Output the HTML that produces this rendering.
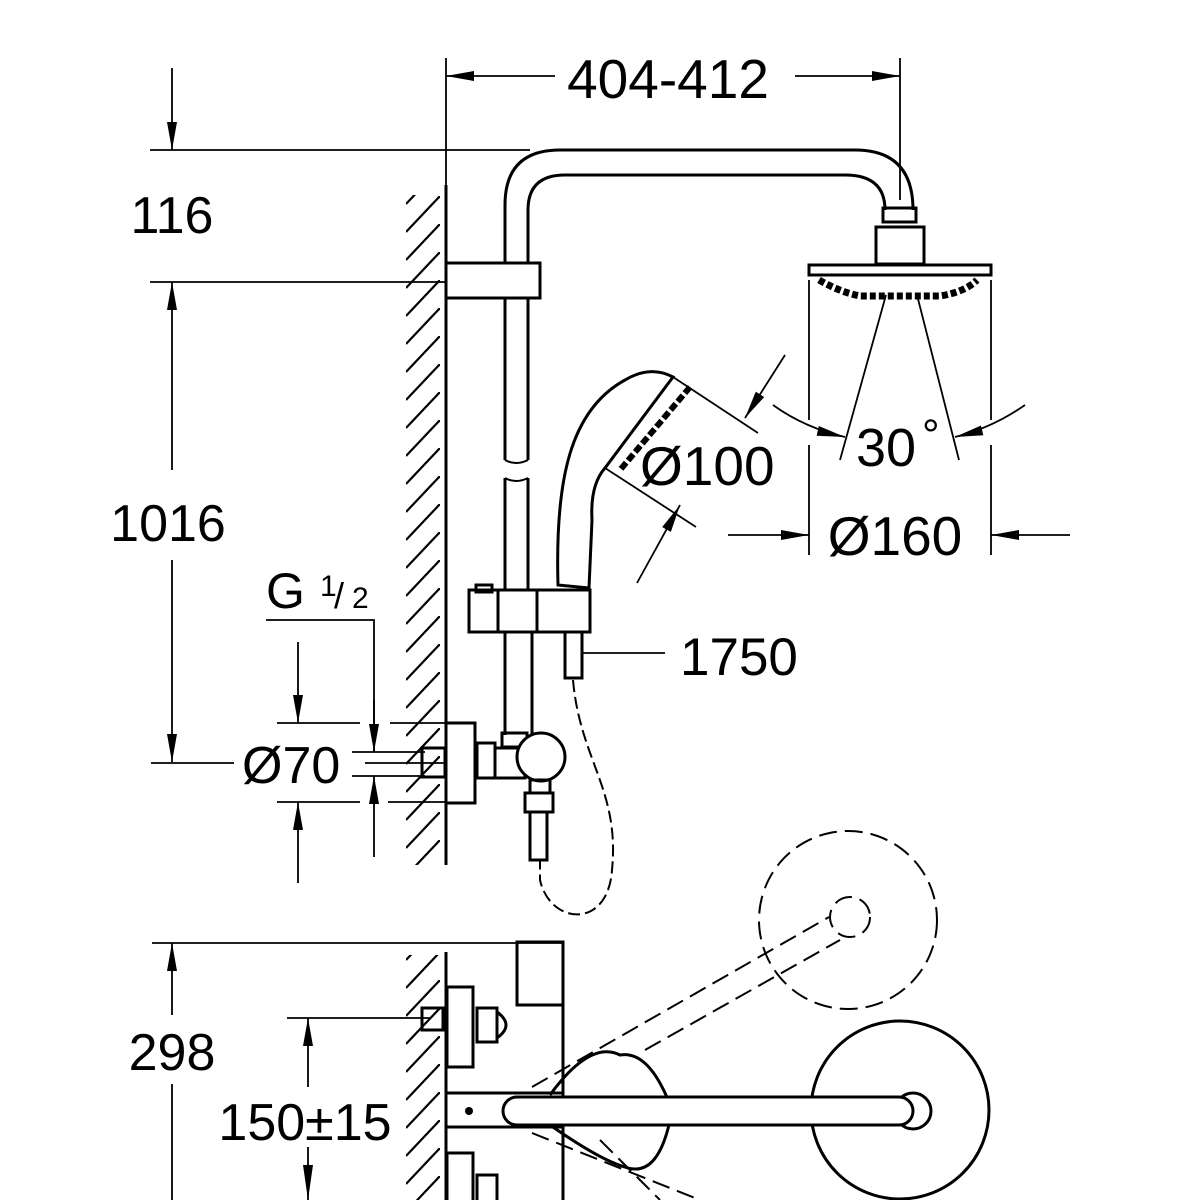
<!DOCTYPE html>
<html><head><meta charset="utf-8"><style>
html,body{margin:0;padding:0;background:#fff;}
svg{display:block;}
text{font-family:"Liberation Sans",sans-serif;fill:#000;}
</style></head><body>
<svg width="1200" height="1200" viewBox="0 0 1200 1200" xmlns="http://www.w3.org/2000/svg">
<defs>
<marker id="a" viewBox="0 0 28 10" refX="28" refY="5" markerWidth="28" markerHeight="10" markerUnits="userSpaceOnUse" orient="auto">
<path d="M0,0 L28,5 L0,10 z" fill="#000"/></marker>
<pattern id="h" width="40" height="28" patternUnits="userSpaceOnUse" y="0">
<line x1="40" y1="0" x2="6" y2="36" stroke="#000" stroke-width="2.2"/>
<line x1="40" y1="-28" x2="6" y2="8" stroke="#000" stroke-width="2.2"/>
</pattern>
</defs>
<g fill="none" stroke="#000" stroke-width="1.8">
<line x1="446" y1="58" x2="446" y2="190"/>
<line x1="900" y1="58" x2="900" y2="200"/>
<line x1="555" y1="76" x2="446" y2="76" marker-end="url(#a)"/>
<line x1="795" y1="76" x2="900" y2="76" marker-end="url(#a)"/>
<line x1="150" y1="150" x2="530" y2="150"/>
<line x1="172" y1="68" x2="172" y2="150" marker-end="url(#a)"/>
<line x1="150" y1="282" x2="446" y2="282"/>
<line x1="172" y1="470" x2="172" y2="282" marker-end="url(#a)"/>
<line x1="172" y1="560" x2="172" y2="762" marker-end="url(#a)"/>
<line x1="151" y1="763" x2="234" y2="763"/>
<polyline points="266,620 374,620 374,752"/>
<line x1="374" y1="700" x2="374" y2="752" marker-end="url(#a)"/>
<line x1="374" y1="857" x2="374" y2="776" marker-end="url(#a)"/>
<line x1="298" y1="642" x2="298" y2="723" marker-end="url(#a)"/>
<line x1="298" y1="883" x2="298" y2="802" marker-end="url(#a)"/>
<line x1="277" y1="723" x2="360" y2="723"/><line x1="390" y1="723" x2="470" y2="723"/>
<line x1="277" y1="802" x2="360" y2="802"/><line x1="388" y1="802" x2="470" y2="802"/>
<line x1="352" y1="752" x2="425" y2="752"/><line x1="352" y1="776" x2="425" y2="776"/>
<line x1="365" y1="763" x2="450" y2="763"/>
<line x1="809" y1="280" x2="809" y2="420"/><line x1="809" y1="445" x2="809" y2="555"/>
<line x1="991" y1="280" x2="991" y2="420"/><line x1="991" y1="445" x2="991" y2="555"/>
<line x1="886" y1="295" x2="840" y2="460"/>
<line x1="917" y1="295" x2="959" y2="460"/>
<path d="M773,405 Q805,428 845,437" marker-end="url(#a)"/>
<path d="M1025,405 Q992,428 955,437" marker-end="url(#a)"/>
<line x1="728" y1="535" x2="809" y2="535" marker-end="url(#a)"/>
<line x1="1070" y1="535" x2="991" y2="535" marker-end="url(#a)"/>
<line x1="673" y1="377" x2="758" y2="433"/>
<line x1="605" y1="468" x2="696" y2="527"/>
<line x1="785" y1="355" x2="745" y2="418" marker-end="url(#a)"/>
<line x1="637" y1="583" x2="680" y2="505" marker-end="url(#a)"/>
<line x1="582" y1="653" x2="665" y2="653"/>
<line x1="152" y1="943" x2="563" y2="943"/>
<line x1="172" y1="1015" x2="172" y2="943" marker-end="url(#a)"/>
<line x1="172" y1="1084" x2="172" y2="1200"/>
<line x1="287" y1="1018" x2="430" y2="1018"/>
<line x1="308" y1="1087" x2="308" y2="1018" marker-end="url(#a)"/>
<line x1="308" y1="1147" x2="308" y2="1200"/>
</g>
<polygon points="303,1165 313,1165 308,1200" fill="#000"/>
<rect x="406" y="195" width="40" height="670" fill="url(#h)"/>
<rect x="406" y="955" width="40" height="245" fill="url(#h)"/>
<g fill="none" stroke="#000" stroke-width="3">
<line x1="446" y1="185" x2="446" y2="865"/>
<line x1="446" y1="952" x2="446" y2="1200"/>
<path d="M505,265 V205 Q505,150 560,150 H855 Q913,150 913,210"/>
<path d="M528,265 V210 Q528,175 565,175 H845 Q885,175 885,210"/>
<rect x="446" y="263" width="94" height="35" fill="#fff"/>
<path d="M505,298 V460 M528,298 V460 M505,478 V590 M528,478 V590"/>
<path d="M505,460 Q516,466 528,460 M505,478 Q516,484 528,478" stroke-width="2"/>
<rect x="883" y="208" width="33" height="14"/>
<rect x="876" y="227" width="48" height="37"/>
<rect x="809" y="265" width="182" height="10"/>
<path d="M819,280 Q840,292 860,296 L940,296 Q965,292 977,280" stroke-width="7" stroke-dasharray="6,3"/>
<path d="M558,585 C555,480 570,410 625,380 Q650,365 673,377 L605,468 Q590,485 592,520 L589,588 Z" fill="#fff"/>
<path d="M690,387 L620,470" stroke-width="6" stroke-dasharray="8,3"/>
<rect x="469" y="590" width="121" height="42" fill="#fff"/>
<line x1="498" y1="590" x2="498" y2="632"/><line x1="537" y1="590" x2="537" y2="632"/>
<rect x="476" y="585" width="16" height="7"/>
<rect x="565" y="632" width="17" height="46"/>
<path d="M505,632 V735 M532,632 V735"/>
<rect x="446" y="723" width="29" height="80" fill="#fff"/>
<rect x="422" y="748" width="23" height="29"/>
<rect x="477" y="743" width="18" height="35"/>
<rect x="495" y="748" width="30" height="30"/>
<rect x="502" y="733" width="25" height="14"/>
<circle cx="541" cy="757" r="24" fill="#fff"/>
<rect x="530" y="780" width="20" height="13"/>
<rect x="525" y="793" width="28" height="19"/>
<rect x="530" y="812" width="17" height="48"/>
<path d="M573,680 C580,760 620,790 612,870 C608,930 550,925 540,880 L540,860" stroke-width="2" stroke-dasharray="12,5"/>
<rect x="517" y="942" width="46" height="63"/>
<line x1="563" y1="942" x2="563" y2="1200"/>
<rect x="447" y="987" width="26" height="80"/>
<rect x="422" y="1008" width="21" height="22"/>
<rect x="477" y="1008" width="20" height="34"/>
<path d="M497,1012 Q515,1025 497,1038"/>
<rect x="447" y="1153" width="26" height="60"/>
<rect x="477" y="1175" width="20" height="34"/>
<line x1="446" y1="1093" x2="563" y2="1093"/>
<line x1="446" y1="1127" x2="563" y2="1127"/>
<path d="M550,1095 Q590,1040 620,1055 Q650,1050 672,1110 Q660,1180 625,1167 Q600,1160 550,1125"/>
<circle cx="900" cy="1110" r="89"/>
<circle cx="913" cy="1111" r="18"/>
<rect x="503" y="1097" width="410" height="28" rx="14" fill="#fff"/>
<g stroke-width="2" stroke-dasharray="18,8">
<circle cx="848" cy="920" r="89"/>
<circle cx="850" cy="917" r="20"/>
<line x1="532" y1="1087" x2="829" y2="917"/>
<line x1="645" y1="1050" x2="840" y2="940"/>
<line x1="532" y1="1133" x2="700" y2="1200"/>
<line x1="600" y1="1140" x2="660" y2="1200"/>
</g>
</g>
<circle cx="469" cy="1111" r="4" fill="#000"/>
<text x="668" y="98" font-size="55" text-anchor="middle">404-412</text>
<text x="172" y="233" font-size="52" text-anchor="middle">116</text>
<text x="168" y="541" font-size="52" text-anchor="middle">1016</text>
<text x="266" y="608" font-size="50">G</text>
<text x="320" y="596" font-size="30">1</text>
<text x="334" y="608" font-size="36">/</text>
<text x="352" y="608" font-size="30">2</text>
<text x="242" y="783" font-size="52">Ø70</text>
<text x="640" y="485" font-size="55">Ø100</text>
<text x="856" y="466" font-size="54">30</text>
<text x="922" y="450" font-size="44">°</text>
<text x="895" y="555" font-size="55" text-anchor="middle">Ø160</text>
<text x="680" y="675" font-size="53">1750</text>
<text x="172" y="1070" font-size="52" text-anchor="middle">298</text>
<text x="305" y="1140" font-size="52" text-anchor="middle">150±15</text>
</svg>
</body></html>
